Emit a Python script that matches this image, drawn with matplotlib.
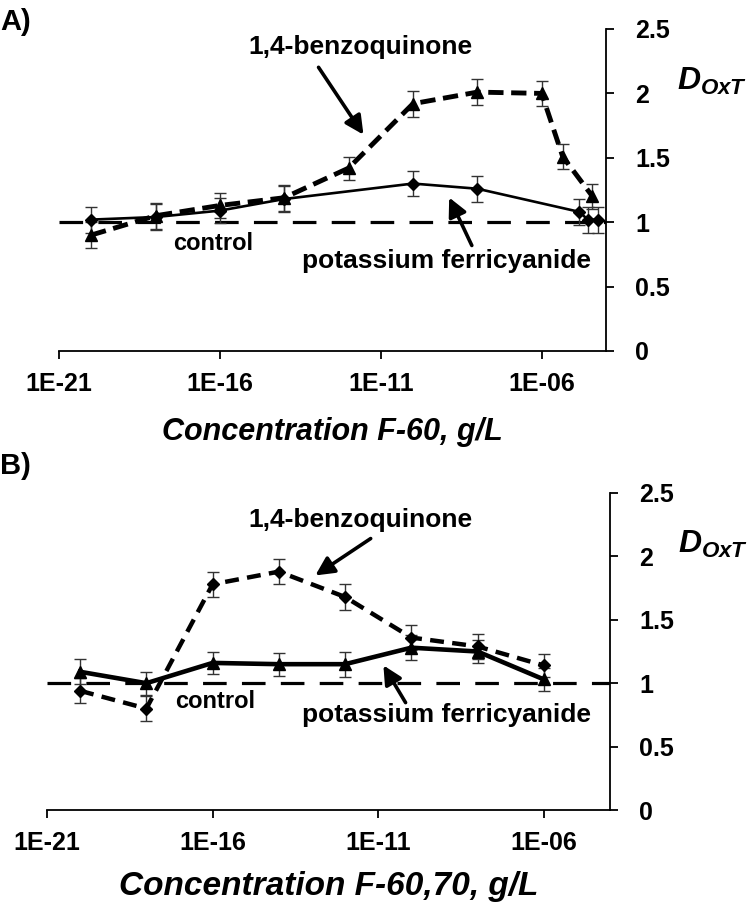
import numpy as np
import matplotlib
matplotlib.use('Agg')
import matplotlib.pyplot as plt
from matplotlib.ticker import FixedLocator, FuncFormatter, NullLocator

plt.rcParams['font.family'] = ['Liberation Sans', 'DejaVu Sans']
plt.rcParams['font.weight'] = 'bold'
plt.rcParams['lines.scale_dashes'] = False
plt.rcParams['mathtext.fontset'] = 'custom'
plt.rcParams['mathtext.it'] = 'Liberation Sans:italic:bold'
plt.rcParams['mathtext.rm'] = 'Liberation Sans:bold'

# ---------------- data ----------------
# Panel A (F-60)
a_bq_x = [1e-20, 1e-18, 1e-16, 1e-14, 1e-12, 1e-10, 1e-8, 1e-6, 4.5e-6, 3.8e-5]
a_bq_y = [0.90, 1.05, 1.13, 1.19, 1.42, 1.92, 2.01, 2.00, 1.51, 1.20]
a_bq_err = [0.10, 0.10, 0.10, 0.10, 0.09, 0.10, 0.10, 0.10, 0.10, 0.10]

a_fc_x = [1e-20, 1e-18, 1e-16, 1e-14, 1e-10, 1e-8, 1.5e-5, 2.7e-5, 5.5e-5]
a_fc_y = [1.02, 1.04, 1.09, 1.18, 1.30, 1.26, 1.08, 1.02, 1.02]
a_fc_err = [0.10, 0.10, 0.10, 0.10, 0.10, 0.10, 0.10, 0.10, 0.10]

# Panel B (F-60,70)
b_x = [1e-20, 1e-18, 1e-16, 1e-14, 1e-12, 1e-10, 1e-8, 1e-6]
b_fc_y = [1.09, 1.00, 1.16, 1.15, 1.15, 1.28, 1.25, 1.03]
b_fc_err = [0.10, 0.09, 0.09, 0.09, 0.10, 0.10, 0.09, 0.09]
b_bq_y = [0.94, 0.80, 1.78, 1.88, 1.68, 1.36, 1.29, 1.14]
b_bq_err = [0.10, 0.10, 0.10, 0.10, 0.10, 0.10, 0.10, 0.09]

control_level = 1.0
x_ticks = [1e-21, 1e-16, 1e-11, 1e-6]
y_ticks = [0, 0.5, 1, 1.5, 2, 2.5]

W, H = 750, 907
fig = plt.figure(figsize=(W / 100, H / 100), dpi=100)


def fp(x, y):
    return (x / W, 1 - y / H)


def make_axes(l, r, t, b):
    ax = fig.add_axes([l / W, 1 - b / H, (r - l) / W, (b - t) / H])
    ax.set_xscale('log')
    ax.set_xlim(1e-21, 1e-4)
    ax.set_ylim(0, 2.5)
    ax.spines['left'].set_visible(False)
    ax.spines['top'].set_visible(False)
    ax.spines['right'].set_linewidth(1.3)
    ax.spines['bottom'].set_linewidth(1.3)
    ax.yaxis.tick_right()
    ax.xaxis.set_major_locator(FixedLocator(x_ticks))
    ax.xaxis.set_minor_locator(NullLocator())
    ax.yaxis.set_major_locator(FixedLocator(y_ticks))
    ax.xaxis.set_major_formatter(FuncFormatter(
        lambda v, p: "1E%+03d" % int(round(np.log10(v)))))
    ax.yaxis.set_major_formatter(FuncFormatter(lambda v, p: "%g" % v))
    ax.tick_params(axis='x', direction='out', length=6, width=1.3,
                   labelsize=18, pad=9)
    ax.tick_params(axis='y', direction='out', length=6, width=1.3,
                   labelsize=18, pad=15)
    ax.axhline(control_level, color='black', lw=2.3, dashes=(17, 11),
               zorder=1)
    return ax


def eb(ax, x, y, e):
    ax.errorbar(x, y, yerr=e, fmt='none', ecolor='#333333', elinewidth=1.0,
                capsize=4, capthick=1.0, zorder=2)


# ---------------- Panel A ----------------
axA = make_axes(59, 606, 29, 351)
eb(axA, a_bq_x, a_bq_y, a_bq_err)
eb(axA, a_fc_x, a_fc_y, a_fc_err)
axA.plot(a_fc_x, a_fc_y, color='black', lw=1.9, marker='D', ms=6, zorder=3)
axA.plot(a_bq_x, a_bq_y, color='black', lw=3.5, dashes=(11, 5.5),
         marker='^', ms=9, zorder=4)
axA.set_xlabel('Concentration F-60, g/L', fontsize=22, fontstyle='italic',
               fontweight='bold', labelpad=15)

# ---------------- Panel B ----------------
axB = make_axes(47, 610, 493, 810)
eb(axB, b_x, b_bq_y, b_bq_err)
eb(axB, b_x, b_fc_y, b_fc_err)
axB.plot(b_x, b_fc_y, color='black', lw=3.3, marker='^', ms=8, zorder=3)
axB.plot(b_x, b_bq_y, color='black', lw=3.2, dashes=(10, 6),
         marker='D', ms=6.5, zorder=4)
axB.set_xlabel('Concentration F-60,70, g/L', fontsize=24, fontstyle='italic',
               fontweight='bold', labelpad=12)

# ---------------- texts & arrows ----------------
ann_fs = 19
def label(x, y, s, fs=ann_fs):
    fig.text(*fp(x, y), s, fontsize=fs, fontweight='bold', ha='left',
             va='center')


def arrow(x0, y0, x1, y1):
    fig.add_artist(matplotlib.patches.FancyArrowPatch(
        fp(x0, y0), fp(x1, y1), transform=fig.transFigure,
        arrowstyle='-|>', mutation_scale=28, lw=2.6, color='black'))

label(0, 22, 'A)', fs=21)
label(0, 466, 'B)', fs=21)

label(248, 47, '1,4-benzoquinone')
label(173, 243, 'control', fs=17)
label(302, 261, 'potassium ferricyanide')
arrow(317, 65, 365, 137)
arrow(473, 248, 448, 195)

label(248, 520, '1,4-benzoquinone')
label(175, 702, 'control', fs=17)
label(302, 715, 'potassium ferricyanide')
arrow(373, 537, 313, 577)
arrow(407, 705, 382, 663)

fig.text(*fp(677, 81), r'$D_{OxT}$', fontsize=23, ha='left', va='center')
fig.text(*fp(678, 544), r'$D_{OxT}$', fontsize=23, ha='left', va='center')

fig.savefig('out.png', dpi=100)
